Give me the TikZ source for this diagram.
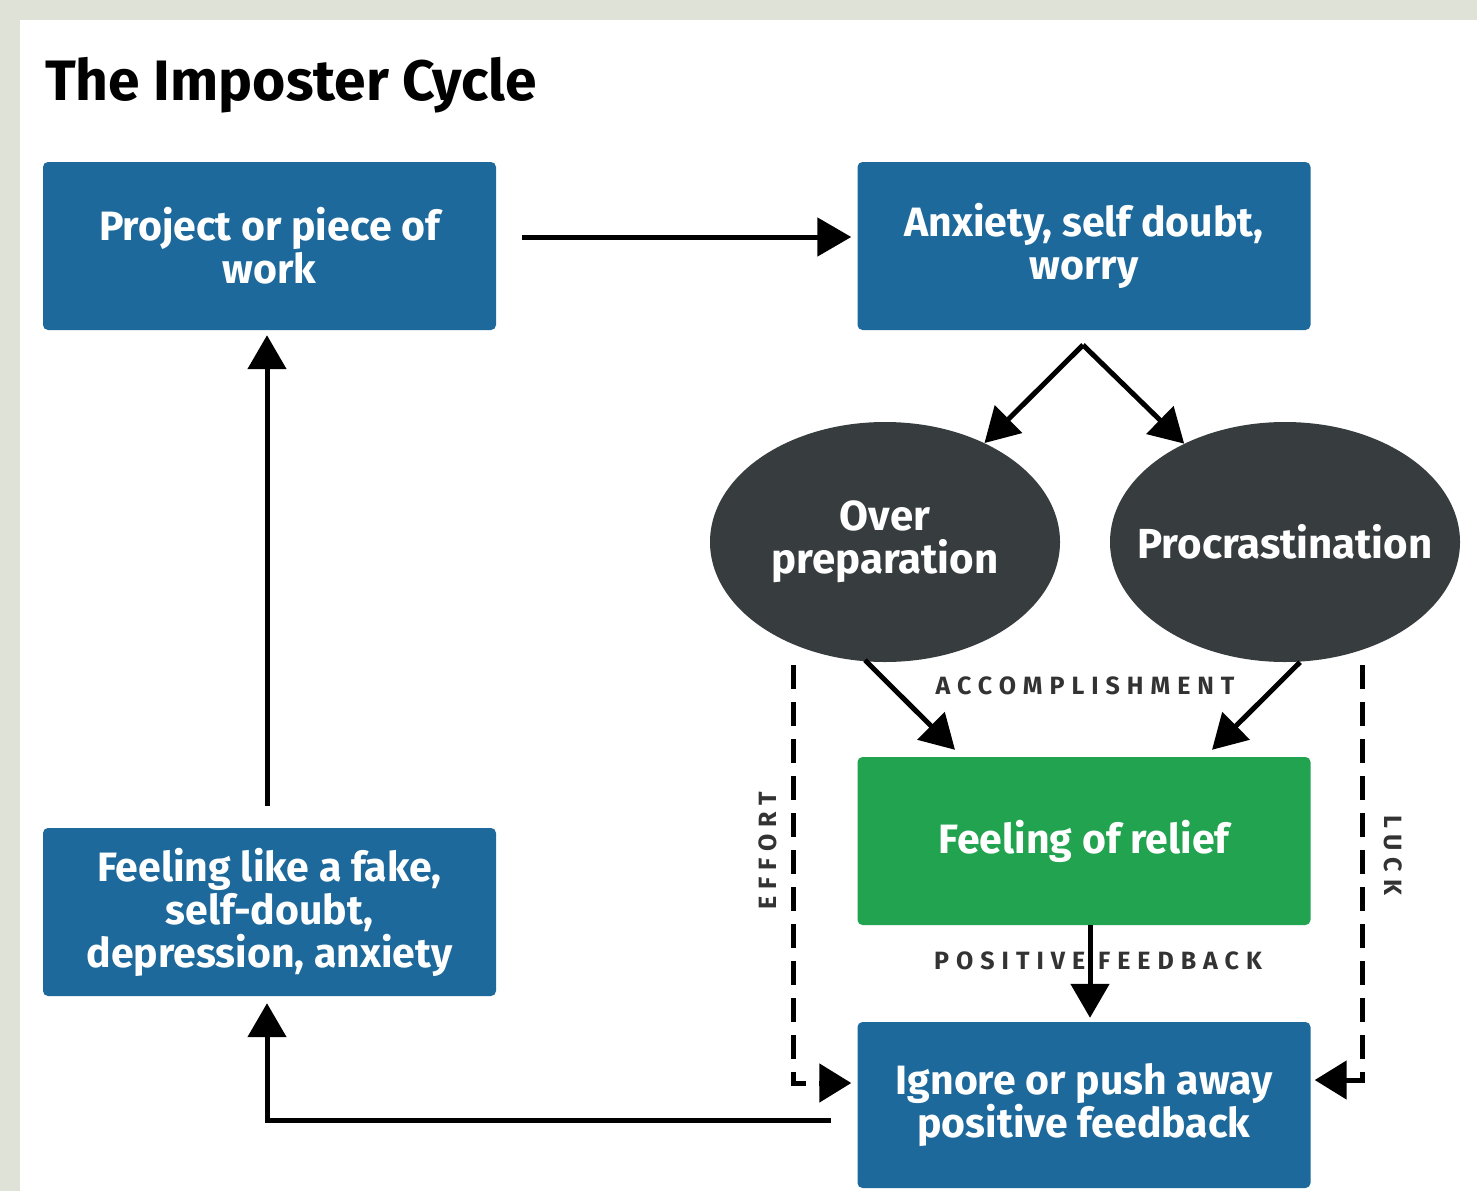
\documentclass[tikz,border=0pt]{standalone}
\usepackage{fontspec}
\setmainfont{Fira Sans}
\newfontfamily\boldf{Fira Sans Bold}
\usetikzlibrary{arrows.meta,shapes.geometric,calc}
\definecolor{bgray}{HTML}{DFE2D6}
\definecolor{bblue}{HTML}{1D699C}
\definecolor{dgray}{HTML}{373D3F}
\definecolor{bgreen}{HTML}{22A350}
\definecolor{lbl}{HTML}{333333}
\tikzset{
  box/.style={rectangle, rounded corners=5pt, fill=bblue, text=white, minimum width=453pt, minimum height=168pt, align=center, font=\boldf\fontsize{41}{43}\selectfont, inner sep=0pt},
  oval/.style={ellipse, fill=dgray, text=white, minimum width=350pt, minimum height=240pt, align=center, font=\boldf\fontsize{42}{43}\selectfont, inner sep=0pt, inner xsep=-90pt},
  arr/.style={line width=5pt, -{Triangle[length=34pt,width=38pt]}},
  dasharr/.style={line width=5pt, dash pattern=on 24pt off 13pt, -{Triangle[length=32pt,width=38pt]}},
  lab/.style={text=lbl, font=\boldf\fontsize{25}{27}\selectfont\addfontfeatures{LetterSpace=28}, inner sep=0pt},
}
\begin{document}
\begin{tikzpicture}[x=1pt,y=-1pt]
\useasboundingbox (0,0) rectangle (1477,1191);
\fill[bgray] (0,0) rectangle (1477,1191);
\fill[white] (20,20) rectangle (1477,1191);

\node[anchor=base west, inner sep=0pt, font=\boldf\fontsize{57}{60}\selectfont] (title) at (45,100) {The Imposter Cycle};

\node[box] (b1) at (269.5,246) {Project or piece of\\work};
\node[box] (b2) at (1084,246) {Anxiety, self doubt,\\worry};
\node[oval] (e1) at (885,542) {Over\\preparation};
\node[oval] (e2) at (1285,542) {Procrastination};
\node[box, fill=bgreen] (g) at (1084,841) {Feeling of relief};
\node[box, minimum height=166pt] (ig) at (1084,1105) {Ignore or push away\\positive feedback};
\node[box] (fk) at (269.5,912) {Feeling like a fake,\\self-doubt,\\depression, anxiety};

\coordinate (apex) at (1083,345);
\coordinate (dl) at (793,665);
\coordinate (dr) at (1362,665);

\draw[arr, shorten <=26pt, shorten >=6pt] ([yshift=9pt]b1.east) -- ([yshift=9pt]b2.west);
\draw[arr] (apex) -- (e1);
\draw[arr] (apex) -- (e2);
\draw[arr] ([xshift=-20pt,yshift=2pt]e1.south) -- ([xshift=-129pt,yshift=7pt]g.north);
\draw[arr] ([xshift=15pt]e2.south) -- ([xshift=128pt,yshift=7pt]g.north);
\draw[arr, shorten >=4pt] ([xshift=6pt]g.south) -- ([xshift=6pt]ig.north);
\draw[dasharr, shorten >=6pt] (dl) |- ([yshift=22pt]ig.west);
\draw[dasharr, shorten >=4pt] (dr) |- ([yshift=25pt]ig.east);
\draw[arr, shorten <=26pt, shorten >=7pt] ([yshift=-15pt]ig.west) -| ([xshift=-2.5pt]fk.south);
\draw[arr, shorten <=22pt, shorten >=5pt] ([xshift=-2.5pt]fk.north) -- ([xshift=-2.5pt]b1.south);

\node[lab] (acc) at (1085,686) {ACCOMPLISHMENT};
\node[lab] (pf) at (1098,961) {POSITIVE FEEDBACK};
\node[lab, rotate=90] (eff) at (768,851) {EFFORT};
\node[lab, rotate=-90] (luck) at (1393,855) {LUCK};
\end{tikzpicture}
\end{document}
